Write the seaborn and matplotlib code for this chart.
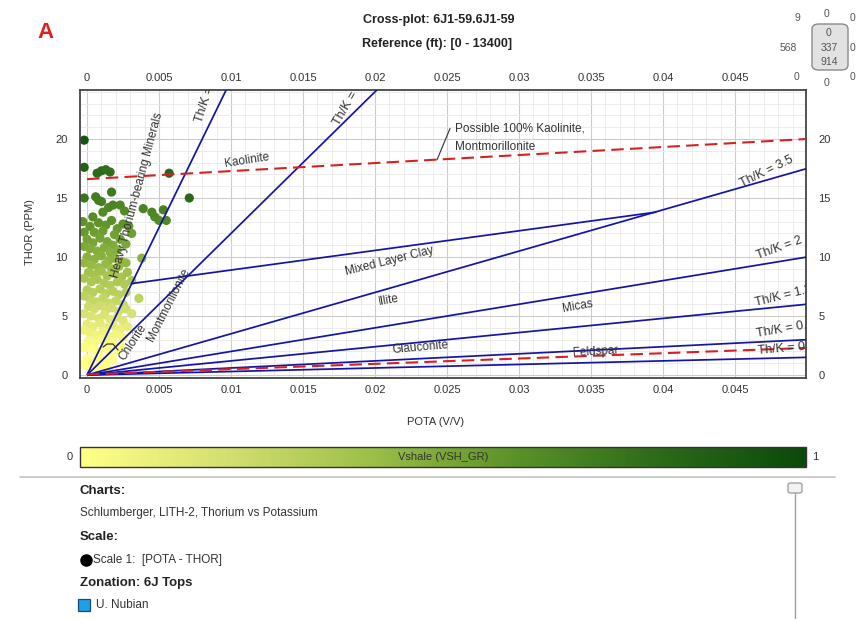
import numpy as np
import pandas as pd
import matplotlib
matplotlib.use("Agg")
import matplotlib.pyplot as plt
from matplotlib.colors import LinearSegmentedColormap, Normalize
from matplotlib.cm import ScalarMappable
from matplotlib.patches import FancyBboxPatch, Rectangle
from matplotlib.lines import Line2D
from matplotlib.ticker import MultipleLocator
import seaborn as sns

# ---------------------------------------------------------------- data
# potassium (V/V), thorium (ppm) and gamma-ray shale volume for each sample
pota = [
    -0.0002, -0.0002, 0.0007, 0.0010, 0.0013, 0.0016, 0.0057,
    0.0017, 0.0006, 0.0008, 0.0010, 0.0071, -0.0002, 0.0015, 0.0018, 0.0023,
    0.0026, 0.0039, 0.0045, 0.0047, 0.0050, 0.0053, 0.0055, 0.0011, 0.0004,
    -0.0003, 0.0002, 0.0008, 0.0013, 0.0017, 0.0021, 0.0025, 0.0029, 0.0005,
    -0.0002, 0.0011, 0.0019, 0.0031,
    0.0000, 0.0004, 0.0009, 0.0014, 0.0018, 0.0023, 0.0027, 0.0002, 0.0007,
    0.0012, 0.0016, 0.0021, -0.0002,
    0.0038, 0.0000, 0.0005, 0.0010, 0.0015, 0.0019, 0.0024, 0.0003, 0.0008,
    0.0013, 0.0017, 0.0022, 0.0027, -0.0002,
    0.0001, 0.0005, 0.0010, 0.0014, 0.0019, 0.0024, 0.0028, 0.0003, 0.0007,
    0.0012, 0.0016, 0.0021, 0.0026, 0.0031, -0.0002,
    0.0000, 0.0004, 0.0009, 0.0013, 0.0018, 0.0022, 0.0027, 0.0036, 0.0002,
    0.0006, 0.0011, 0.0015, 0.0020, 0.0025, -0.0002,
    0.0001, 0.0005, 0.0009, 0.0013, 0.0017, 0.0022, 0.0027, 0.0031, 0.0003,
    0.0008, 0.0012, 0.0016, 0.0021, 0.0025, -0.0002,
    0.0000, 0.0004, 0.0009, 0.0013, 0.0018, 0.0023, 0.0028, 0.0002, 0.0006,
    0.0011, 0.0015, 0.0020, 0.0025, -0.0002,
    0.0001, 0.0005, 0.0010, 0.0014, 0.0018, 0.0023, 0.0003, 0.0007, 0.0012,
    0.0016, 0.0021, -0.0002,
    0.0000, 0.0004, 0.0009, 0.0013, 0.0018, 0.0002, 0.0006, 0.0011, 0.0015,
    -0.0002,
]
thor = [
    19.9, 17.6, 17.1, 17.3, 17.4, 17.2, 17.1,
    15.5, 15.1, 14.8, 14.7, 15.0, 15.0, 14.2, 14.4, 14.4,
    13.9, 14.1, 13.8, 13.4, 13.1, 14.0, 13.1, 13.8, 13.4,
    13.0, 12.6, 12.9, 12.7, 13.1, 12.4, 12.8, 12.6, 12.1,
    12.1, 12.2, 11.9, 12.0,
    11.5, 11.2, 11.6, 11.3, 11.0, 11.5, 11.1, 10.7, 10.5,
    10.8, 10.4, 10.6, 10.9,
    9.9, 10.0, 9.8, 10.1, 9.7, 9.9, 9.6, 9.3, 9.1,
    9.4, 9.0, 9.2, 9.5, 9.5,
    8.7, 8.5, 8.8, 8.4, 8.6, 8.3, 8.7, 7.9, 8.1,
    7.8, 7.6, 7.9, 7.7, 8.0, 8.2,
    7.2, 7.0, 7.3, 6.9, 7.1, 6.8, 7.0, 6.5, 6.4,
    6.2, 6.5, 6.1, 6.3, 6.0, 6.7,
    5.8, 5.6, 5.9, 5.5, 5.7, 5.4, 5.6, 5.2, 5.0,
    4.8, 5.1, 4.7, 4.9, 4.6, 5.2,
    4.3, 4.1, 4.4, 4.0, 4.2, 3.9, 4.1, 3.6, 3.4,
    3.7, 3.3, 3.5, 3.2, 3.8,
    2.9, 2.7, 3.0, 2.6, 2.8, 2.5, 2.2, 2.0, 2.3,
    1.9, 2.1, 2.4,
    1.4, 1.2, 1.5, 1.1, 1.3, 0.7, 0.5, 0.8, 0.4,
    0.9,
]
vshale = [
    0.93, 0.85, 0.80, 0.80, 0.78, 0.78, 0.82,
    0.72, 0.70, 0.70, 0.69, 0.80, 0.74, 0.65, 0.66, 0.65,
    0.63, 0.67, 0.66, 0.64, 0.63, 0.68, 0.64, 0.63, 0.62,
    0.60, 0.58, 0.59, 0.58, 0.60, 0.56, 0.59, 0.57, 0.55,
    0.56, 0.55, 0.53, 0.54,
    0.52, 0.51, 0.52, 0.51, 0.49, 0.52, 0.50, 0.48, 0.47,
    0.48, 0.46, 0.47, 0.49,
    0.45, 0.46, 0.45, 0.46, 0.44, 0.45, 0.43, 0.42, 0.41,
    0.42, 0.40, 0.41, 0.43, 0.43,
    0.38, 0.37, 0.38, 0.36, 0.37, 0.36, 0.38, 0.34, 0.35,
    0.33, 0.32, 0.34, 0.33, 0.34, 0.35,
    0.31, 0.30, 0.31, 0.29, 0.30, 0.29, 0.30, 0.28, 0.26,
    0.25, 0.26, 0.24, 0.25, 0.24, 0.28,
    0.22, 0.21, 0.22, 0.20, 0.21, 0.20, 0.21, 0.19, 0.17,
    0.16, 0.17, 0.15, 0.16, 0.15, 0.18,
    0.13, 0.12, 0.13, 0.11, 0.12, 0.10, 0.11, 0.08, 0.07,
    0.08, 0.06, 0.07, 0.05, 0.09,
    0.04, 0.03, 0.04, 0.02, 0.03, 0.01, 0.00, 0.00, 0.00,
    0.00, 0.00, 0.02,
    0.00, 0.00, 0.00, 0.00, 0.00, 0.00, 0.00, 0.00, 0.00,
    0.00,
]

# Th/K ratio lines radiating from the origin (Th ppm per K %)
thk_ratios = [25, 12, 3.5, 2, 1.2, 0.6, 0.3]
thk_labels = ["Th/K = 25", "Th/K = 12", "Th/K = 3.5", "Th/K = 2",
              "Th/K = 1.2", "Th/K = 0.6", "Th/K = 0.3"]

# mixed-layer clay boundary
mixed_pota = [0.0031, 0.0395]
mixed_thor = [7.75, 13.8]

# dashed boundaries: 100% kaolinite/montmorillonite and feldspar
kaol_pota = [0.0, 0.05]
kaol_thor = [16.6, 20.0]
feld_pota = [0.0, 0.05]
feld_thor = [0.05, 2.3]

x_ticks = [0, 0.005, 0.01, 0.015, 0.02, 0.025, 0.03, 0.035, 0.04, 0.045]
x_tick_labels = ["0", "0.005", "0.01", "0.015", "0.02", "0.025", "0.03",
                 "0.035", "0.04", "0.045"]
y_ticks = [0, 5, 10, 15, 20]
y_tick_labels = ["0", "5", "10", "15", "20"]

# ---------------------------------------------------------------- style
sns.set_style("white")
plt.rcParams["font.family"] = ["Liberation Sans", "DejaVu Sans"]

W, H = 856, 619
fig = plt.figure(figsize=(W / 100, H / 100), dpi=100)
fig.patch.set_facecolor("white")


def fx(px):
    return px / W


def fy(py):
    return 1 - py / H


def ftext(px, py, s, **kw):
    kw.setdefault("color", "#333333")
    return fig.text(fx(px), fy(py), s, **kw)


vsh_cmap = LinearSegmentedColormap.from_list(
    "vsh", ["#ffff85", "#d4df70", "#9cbf48", "#5a9128", "#2b6a18", "#0a4a0a"])
norm = Normalize(0, 1)

# ---------------------------------------------------------------- main axes
ax = fig.add_axes([fx(80), fy(378), fx(806) - fx(80), fy(90) - fy(378)])
ax.set_facecolor("white")

df = pd.DataFrame({"POTA": pota, "THOR": thor, "VSH": vshale})
sns.scatterplot(data=df, x="POTA", y="THOR", hue="VSH", palette=vsh_cmap,
                hue_norm=(0, 1), s=44, linewidth=0, legend=False, ax=ax,
                zorder=2)

blue = "#1414a8"
red = "#d42222"
kk = np.array([0.0, 0.05])
for r in thk_ratios:
    ax.plot(kk, r * 100 * kk, color=blue, lw=1.25, zorder=3,
            solid_capstyle="butt")
ax.plot(mixed_pota, mixed_thor, color=blue, lw=1.25, zorder=3)
ax.plot(kaol_pota, kaol_thor, color=red, lw=1.5, ls=(0, (6, 3)), zorder=4)
ax.plot(feld_pota, feld_thor, color=red, lw=1.5, ls=(0, (6, 3)), zorder=4)

ax.set_xlim(-0.00049, 0.04993)
ax.set_ylim(-0.25, 24.15)
ax.set_xticks(x_ticks)
ax.set_xticklabels(x_tick_labels)
ax.set_yticks(y_ticks)
ax.set_yticklabels(y_tick_labels)
ax.xaxis.set_minor_locator(MultipleLocator(0.001))
ax.yaxis.set_minor_locator(MultipleLocator(1))
ax.grid(which="major", color="#cdcdcd", lw=0.8)
ax.grid(which="minor", color="#e9e9e9", lw=0.6)
ax.set_axisbelow(True)
ax.tick_params(which="both", length=0, labelsize=8, labelcolor="#333333",
               top=True, right=True, labeltop=True, labelright=True)
ax.tick_params(axis="x", which="major", pad=5)
ax.tick_params(axis="y", which="major", labelleft=True, pad=9)
ax.set_xlabel("")
ax.set_ylabel("")
for sp in ax.spines.values():
    sp.set_color("#444444")
    sp.set_linewidth(1.3)

lab_kw = dict(color="#333333", clip_on=True, zorder=5, rotation_mode="anchor")
rk = dict(fontsize=9, ha="left", va="center", **lab_kw)
mk = dict(fontsize=8.5, ha="center", va="center", **lab_kw)

# ratio line labels at the upper and right edges
ax.text(0.00775, 21.4, thk_labels[0], rotation=72, **rk)
ax.text(0.01729, 21.2, thk_labels[1], rotation=60, **rk)
ax.text(0.04542, 16.2, thk_labels[2], rotation=26, **rk)
ax.text(0.04653, 10.1, thk_labels[3], rotation=20, **rk)
ax.text(0.04639, 6.1, thk_labels[4], rotation=14, **rk)
ax.text(0.04646, 3.45, thk_labels[5], rotation=10, **rk)
ax.text(0.0466, 2.0, thk_labels[6], rotation=5, **rk)

# mineral zone labels
ax.text(0.01111, 18.2, "Kaolinite", rotation=9, **mk)
ax.text(0.00347, 15.2, "Heavy Thorium-bearing Minerals", rotation=75, **mk)
ax.text(0.00563, 5.93, "Montmorillonite", rotation=63, **mk)
ax.text(0.0032, 2.8, "Chlorite", rotation=57, **mk)
ax.text(0.02104, 9.66, "Mixed Layer Clay", rotation=14, **mk)
ax.text(0.02097, 6.36, "Illite", rotation=10, **mk)
ax.text(0.0341, 5.85, "Micas", rotation=10, **mk)
ax.text(0.02313, 2.37, "Glauconite", rotation=5, **mk)
ax.text(0.03528, 1.95, "Feldspar", rotation=3, **mk)

ax.text(0.02556, 20.85, "Possible 100% Kaolinite,", fontsize=8.5,
        color="#333333", ha="left", va="center", zorder=5)
ax.text(0.02556, 19.3, "Montmorillonite", fontsize=8.5, color="#333333",
        ha="left", va="center", zorder=5)
ax.plot([0.02521, 0.02431], [20.9, 18.25], color="#333333", lw=0.8, zorder=5)
ax.plot([0.00111, 0.00139, 0.0018, 0.00215], [2.37, 2.63, 2.63, 2.12],
        color="#222222", lw=0.8, zorder=5)

# ---------------------------------------------------------------- axis titles
ftext(30, 232, "THOR (PPM)", rotation=90, ha="center", va="center", fontsize=8)
ftext(436, 422, "POTA (V/V)", ha="center", va="center", fontsize=8)

# ---------------------------------------------------------------- header
ftext(45, 33, "A", color="#e02020", fontsize=16, fontweight="bold",
      ha="center", va="center")
ftext(439, 20, "Cross-plot: 6J1-59.6J1-59", fontsize=9, fontweight="bold",
      ha="center", va="center", color="#222222")
ftext(437, 44, "Reference (ft): [0 - 13400]", fontsize=9, fontweight="bold",
      ha="center", va="center", color="#222222")

# quadrant count box
box = FancyBboxPatch((fx(812), fy(70)), fx(848) - fx(812), fy(24) - fy(70),
                     boxstyle="round,pad=0,rounding_size=0.008",
                     transform=fig.transFigure, facecolor="#e2e2e2",
                     edgecolor="#8a8a8a", lw=1.0)
fig.add_artist(box)
cnt_kw = dict(fontsize=7.5, ha="center", va="center", color="#555555")
ftext(797, 18, "9", **cnt_kw)
ftext(826, 14, "0", **cnt_kw)
ftext(853, 18, "0", **cnt_kw)
ftext(788, 48, "568", **cnt_kw)
ftext(829, 33, "0", **cnt_kw)
ftext(829, 48, "337", **cnt_kw)
ftext(829, 62, "914", **cnt_kw)
ftext(853, 48, "0", **cnt_kw)
ftext(797, 77, "0", **cnt_kw)
ftext(826, 83, "0", **cnt_kw)
ftext(853, 77, "0", **cnt_kw)

# ---------------------------------------------------------------- colour bar
cax = fig.add_axes([fx(80), fy(467), fx(806) - fx(80), fy(447) - fy(467)])
cb = fig.colorbar(ScalarMappable(norm=norm, cmap=vsh_cmap), cax=cax,
                  orientation="horizontal")
cb.set_ticks([])
cb.outline.set_edgecolor("#333333")
cb.outline.set_linewidth(1.0)
cax.text(0.5, 0.5, "Vshale (VSH_GR)", transform=cax.transAxes, ha="center",
         va="center", fontsize=8, color="#333333")
ftext(70, 457, "0", fontsize=8, ha="center", va="center")
ftext(815, 457, "1", fontsize=8, ha="center", va="center")

# ---------------------------------------------------------------- legend panel
fig.add_artist(Line2D([fx(20), fx(835)], [fy(477), fy(477)],
                      transform=fig.transFigure, color="#c4c4c4", lw=1.2))
fig.add_artist(Line2D([fx(795), fx(795)], [fy(493), fy(619)],
                      transform=fig.transFigure, color="#a0a0a0", lw=1.0))
fig.add_artist(FancyBboxPatch((fx(788), fy(493)), fx(802) - fx(788),
                              fy(483) - fy(493),
                              boxstyle="round,pad=0,rounding_size=0.003",
                              transform=fig.transFigure, facecolor="#f2f2f2",
                              edgecolor="#9a9a9a", lw=0.9))

ftext(80, 491, "Charts:", fontsize=9.5, fontweight="bold", va="center",
      color="#222222")
ftext(80, 513, "Schlumberger, LITH-2, Thorium vs Potassium", fontsize=8.5,
      va="center")
ftext(80, 537, "Scale:", fontsize=9.5, fontweight="bold", va="center",
      color="#222222")
fig.add_artist(Line2D([fx(86)], [fy(560)], transform=fig.transFigure,
                      marker="o", markersize=8, color="black", lw=0))
ftext(93, 560, "Scale 1:  [POTA - THOR]", fontsize=8.5, va="center")
ftext(80, 583, "Zonation: 6J Tops", fontsize=9.5, fontweight="bold",
      va="center", color="#222222")
fig.add_artist(Rectangle((fx(78), fy(611)), fx(90) - fx(78), fy(599) - fy(611),
                         transform=fig.transFigure, facecolor="#1ea0e8",
                         edgecolor="#1a4a7a", lw=0.9))
ftext(96, 605, "U. Nubian", fontsize=8.5, va="center")

fig.savefig("out.png", dpi=100)
